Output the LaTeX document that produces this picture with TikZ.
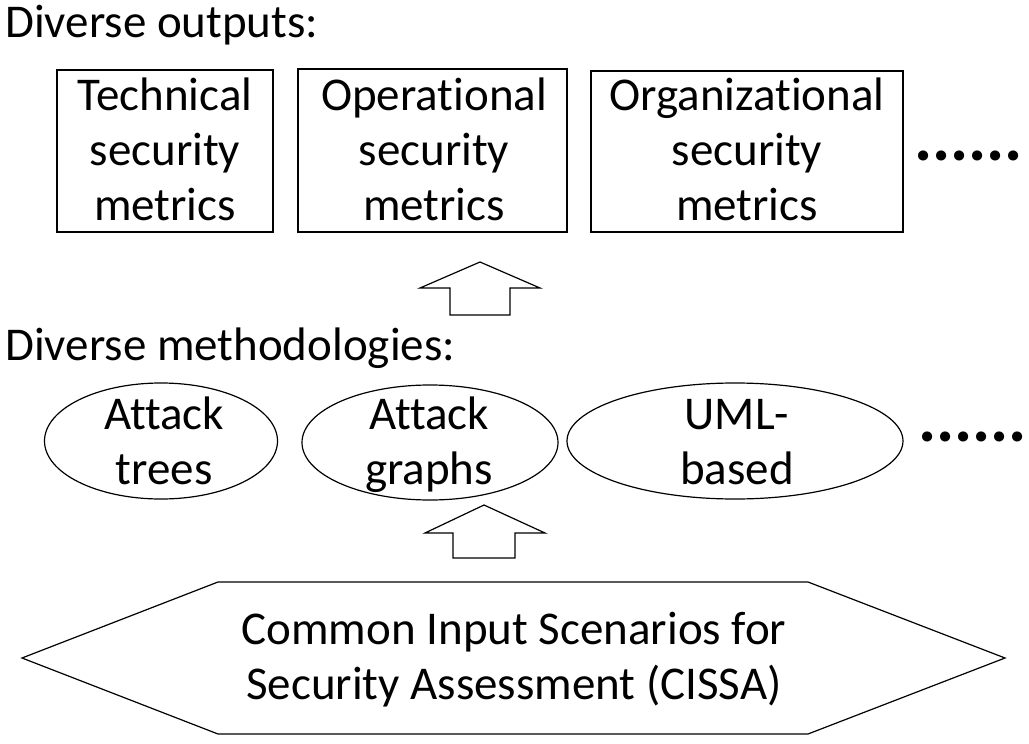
\documentclass[tikz,border=0pt]{standalone}
\usepackage{fontspec}
\setmainfont{Carlito}[Ligatures=NoCommon]
\usetikzlibrary{shapes.geometric}
\begin{document}
\begin{tikzpicture}[x=1pt,y=-1pt,
  outline/.style={draw=black,line width=1.2pt},
  metricbox/.style={outline,rectangle,inner sep=0pt},
  methodoval/.style={outline,ellipse,inner sep=0pt},
  bigtext/.style={font=\fontsize{47}{55}\selectfont,inner sep=0pt},
  celltext/.style={bigtext,align=center},
  moredots/.style={font=\fontsize{68}{68}\selectfont\bfseries,inner sep=0pt,anchor=base west},
  blockarrow/.style={outline,line join=miter,fill=white},
]
\useasboundingbox (0,0) rectangle (1029,744);

% headings
\node[bigtext,anchor=base west] (hout) at (5,37) {Diverse outputs:};
\node[bigtext,anchor=base west] (hmeth) at (5,360) {Diverse methodologies:};

% output metrics
\node[metricbox,minimum width=216pt,minimum height=162pt] (tech) at (165,151) {};
\node[metricbox,minimum width=269pt,minimum height=163pt] (oper) at (432.5,150.5) {};
\node[metricbox,minimum width=312pt,minimum height=161pt] (orga) at (747,151.5) {};
\node[celltext] (techt) at (165,154) {\strut Technical\\\strut security\\\strut metrics};
\node[celltext] (opert) at (434,154) {\strut Operational\\\strut security\\\strut metrics};
\node[celltext] (orgat) at (747,154) {\strut Organizational\\\strut security\\\strut metrics};
\node[moredots] (moreout) at (914,160) {......};

% methodologies
\node[methodoval,minimum width=233pt,minimum height=116pt] (trees) at (161,441) {};
\node[methodoval,minimum width=256pt,minimum height=115pt] (graphs) at (430,442.5) {};
\node[methodoval,minimum width=336pt,minimum height=116pt] (uml) at (735,441) {};
\node[celltext] (treest) at (164,446) {\strut Attack\\\strut trees};
\node[celltext] (graphst) at (429,446) {\strut Attack\\\strut graphs};
\node[celltext] (umlt) at (737,446) {\strut UML-\\\strut based};
\node[moredots] (moremeth) at (918,441) {......};

% common input scenarios
\node[celltext] (cissa) at (514,661) {\strut Common Input Scenarios for\\\strut Security Assessment (CISSA)};
\draw[outline,line join=miter] (22,658) -- (218,582) -- (808,582) -- (1005,658)
  -- (808,734) -- (218,734) -- cycle;

% block arrows between the layers
\draw[blockarrow] (450,315) -- (450,288) -- (420,288) -- (480,262) -- (540,288)
  -- (510,288) -- (510,315) -- cycle;
\draw[blockarrow] (453,558) -- (453,533) -- (425,533) -- (484,505) -- (545,533)
  -- (515,533) -- (515,558) -- cycle;
\end{tikzpicture}
\end{document}
